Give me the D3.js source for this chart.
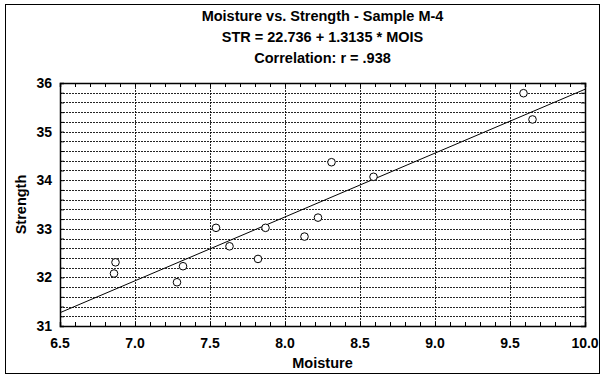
<!DOCTYPE html>
<html><head><meta charset="utf-8">
<script src="https://cdn.jsdelivr.net/npm/d3@7"></script>
<style>body{margin:0;background:#fff}svg{display:block}text{font-family:"Liberation Sans",Arial,sans-serif;font-weight:bold;fill:#000}</style>
</head><body>
<script>
const titleLines = ["Moisture vs. Strength - Sample M-4", "STR = 22.736 + 1.3135 * MOIS", "Correlation: r = .938"];
const xLabel = "Moisture";
const yLabel = "Strength";
const moisture = [6.87, 6.86, 7.32, 7.28, 7.54, 7.63, 7.82, 7.87, 8.13, 8.22, 8.31, 8.59, 9.59, 9.65];
const strength = [32.31, 32.08, 32.23, 31.90, 33.02, 32.64, 32.38, 33.02, 32.84, 33.23, 34.37, 34.07, 35.79, 35.25];
const intercept = 22.736, slope = 1.3135;
const xTicks = [6.5, 7.0, 7.5, 8.0, 8.5, 9.0, 9.5, 10.0];
const yTicks = [31, 32, 33, 34, 35, 36];

const W = 605, H = 377;
const m = {l: 60, r: 20, t: 83, b: 51};
const svg = d3.select("body").append("svg").attr("width", W).attr("height", H);
svg.append("rect").attr("x", 5.5).attr("y", 4.5).attr("width", 594).attr("height", 369)
  .attr("fill", "none").attr("stroke", "#000").attr("stroke-width", 1);

const x = d3.scaleLinear().domain([6.5, 10]).range([m.l, W - m.r]);
const y = d3.scaleLinear().domain([31, 36]).range([H - m.b, m.t]);

const g = svg.append("g");
const yGrid = d3.range(31.2, 35.95, 0.2);
g.selectAll(".hg").data(yGrid).join("line")
  .attr("x1", x(6.5)).attr("x2", x(10)).attr("y1", d => Math.round(y(d)) + 0.5).attr("y2", d => Math.round(y(d)) + 0.5)
  .attr("stroke", "#000").attr("stroke-width", 1).attr("stroke-dasharray", "2,1").attr("opacity", 0.85);
const xGrid = xTicks.slice(1, -1);
g.selectAll(".vg").data(xGrid).join("line")
  .attr("y1", y(31)).attr("y2", y(36)).attr("x1", d => Math.round(x(d)) + 0.5).attr("x2", d => Math.round(x(d)) + 0.5)
  .attr("stroke", "#000").attr("stroke-width", 1).attr("stroke-dasharray", "2,1").attr("opacity", 0.85);

const fmt = d3.format(".1f");
const xAxisB = d3.axisBottom(x).tickValues(d3.range(6.5, 10.01, 0.1)).tickSize(-4).tickFormat(() => "");
const xAxisT = d3.axisTop(x).tickValues(d3.range(6.5, 10.01, 0.1)).tickSize(-4).tickFormat(() => "");
const yAxisL = d3.axisLeft(y).tickValues(d3.range(31, 36.01, 0.2)).tickSize(-4).tickFormat(() => "");
const yAxisR = d3.axisRight(y).tickValues(d3.range(31, 36.01, 0.2)).tickSize(-4).tickFormat(() => "");
[[xAxisB, `translate(0,${y(31)})`], [xAxisT, `translate(0,${y(36)})`], [yAxisL, `translate(${x(6.5)},0)`], [yAxisR, `translate(${x(10)},0)`]].forEach(([ax, tr]) => {
  const a = svg.append("g").attr("transform", tr).call(ax);
  a.select(".domain").attr("stroke", "#000").attr("stroke-width", 1.5);
  a.selectAll(".tick line").attr("stroke", "#000");
});
svg.append("g").selectAll("text").data(xTicks).join("text")
  .attr("x", d => x(d)).attr("y", y(31) + 22).attr("text-anchor", "middle")
  .attr("font-size", 14).text(d => fmt(d));
svg.append("g").selectAll("text").data(yTicks).join("text")
  .attr("x", x(6.5) - 8).attr("y", d => y(d) + 5).attr("text-anchor", "end")
  .attr("font-size", 14).text(d => d);

svg.append("line").attr("x1", x(6.5)).attr("x2", x(10))
  .attr("y1", y(intercept + slope * 6.5)).attr("y2", y(intercept + slope * 10))
  .attr("stroke", "#000").attr("stroke-width", 1);

svg.append("g").selectAll("circle").data(moisture.map((d, i) => [d, strength[i]])).join("circle")
  .attr("cx", d => x(d[0])).attr("cy", d => y(d[1])).attr("r", 3.8)
  .attr("fill", "#fff").attr("stroke", "#000").attr("stroke-width", 1);

svg.append("g").selectAll("text").data(titleLines).join("text")
  .attr("x", (x(6.5) + x(10)) / 2).attr("y", (d, i) => 20.5 + i * 21).attr("text-anchor", "middle")
  .attr("font-size", 14.5).text(d => d);
svg.append("text").attr("x", (x(6.5) + x(10)) / 2).attr("y", 368).attr("text-anchor", "middle")
  .attr("font-size", 14.5).text(xLabel);
svg.append("text").attr("transform", `translate(26,${(y(31) + y(36)) / 2}) rotate(-90)`).attr("text-anchor", "middle")
  .attr("font-size", 14.5).text(yLabel);
</script>
</body></html>
